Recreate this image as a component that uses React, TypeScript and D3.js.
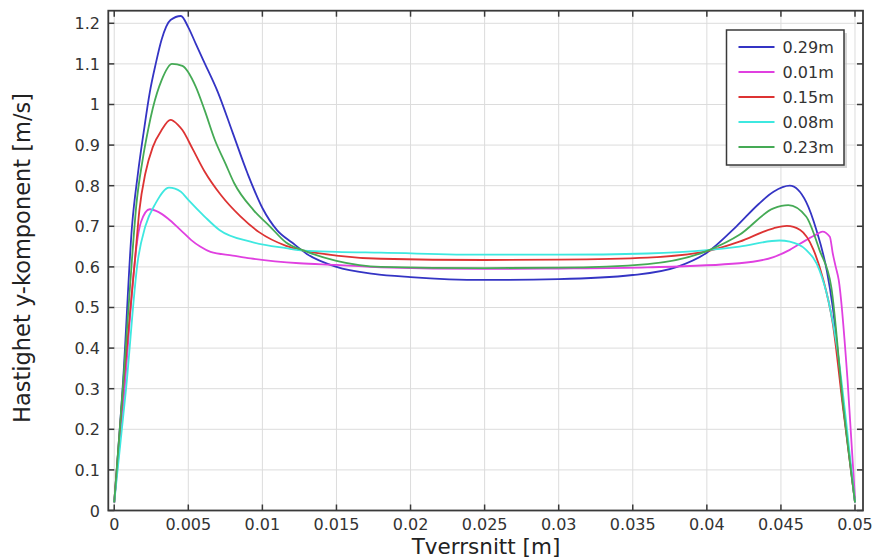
import React from "react";
import * as d3 from "d3";

// Tick values
const xTicks = [0, 0.005, 0.01, 0.015, 0.02, 0.025, 0.03, 0.035, 0.04, 0.045, 0.05];
const yTicks = [0, 0.1, 0.2, 0.3, 0.4, 0.5, 0.6, 0.7, 0.8, 0.9, 1, 1.1, 1.2];

// Series: 0.29m (blue)
const x029 = [0, 0.0006, 0.0012, 0.0016, 0.002, 0.0024, 0.0028, 0.0032, 0.0038, 0.0045, 0.005, 0.0055, 0.006, 0.007, 0.008, 0.009, 0.01, 0.011, 0.012, 0.013, 0.015, 0.0175, 0.02, 0.025, 0.03, 0.035, 0.038, 0.04, 0.042, 0.0435, 0.0445, 0.0456, 0.0467, 0.0474, 0.0481, 0.0485, 0.0492, 0.05];
const y029 = [0.02, 0.32, 0.7, 0.83, 0.935, 1.03, 1.1, 1.16, 1.208, 1.218, 1.19, 1.15, 1.11, 1.03, 0.93, 0.83, 0.745, 0.69, 0.66, 0.632, 0.6, 0.583, 0.575, 0.568, 0.57, 0.58, 0.6, 0.635, 0.7, 0.755, 0.785, 0.8, 0.76, 0.69, 0.59, 0.5, 0.26, 0.02];

// Series: 0.01m (magenta)
const x001 = [0, 0.0007, 0.0013, 0.0015, 0.0018, 0.0024, 0.003, 0.0036, 0.0045, 0.0052, 0.0058, 0.0065, 0.008, 0.0092, 0.0125, 0.015, 0.018, 0.025, 0.03, 0.036, 0.0422, 0.0445, 0.0456, 0.0467, 0.0474, 0.0478, 0.0483, 0.0485, 0.0487, 0.0489, 0.0495, 0.05];
const y001 = [0.02, 0.3, 0.58, 0.65, 0.71, 0.742, 0.735, 0.72, 0.69, 0.666, 0.65, 0.637, 0.628, 0.621, 0.609, 0.605, 0.599, 0.595, 0.596, 0.599, 0.609, 0.624, 0.642, 0.666, 0.68, 0.687, 0.674, 0.633, 0.6, 0.568, 0.32, 0.03];

// Series: 0.15m (red)
const x015 = [0, 0.0006, 0.0014, 0.0017, 0.0021, 0.0026, 0.0032, 0.0038, 0.0043, 0.0046, 0.0053, 0.0061, 0.0072, 0.0085, 0.0098, 0.0116, 0.0128, 0.015, 0.018, 0.025, 0.03, 0.036, 0.0402, 0.0422, 0.0445, 0.0454, 0.0463, 0.0472, 0.0478, 0.0485, 0.0492, 0.05];
const y015 = [0.02, 0.3, 0.617, 0.74, 0.83, 0.895, 0.937, 0.962, 0.95, 0.937, 0.89, 0.835, 0.777, 0.725, 0.685, 0.652, 0.64, 0.628, 0.62, 0.617, 0.618, 0.623, 0.64, 0.662, 0.695, 0.701, 0.691, 0.642, 0.576, 0.46, 0.25, 0.02];

// Series: 0.08m (cyan)
const x008 = [0, 0.0008, 0.0016, 0.0021, 0.0028, 0.0037, 0.0045, 0.005, 0.0061, 0.0071, 0.0092, 0.0116, 0.0128, 0.015, 0.018, 0.025, 0.03, 0.036, 0.0402, 0.0422, 0.0449, 0.0456, 0.0467, 0.0476, 0.0482, 0.0488, 0.0494, 0.05];
const y008 = [0.02, 0.3, 0.617, 0.7, 0.757, 0.795, 0.785, 0.765, 0.724, 0.691, 0.662, 0.646, 0.64, 0.637, 0.635, 0.63, 0.63, 0.633, 0.642, 0.65, 0.665, 0.662, 0.642, 0.592, 0.518, 0.4, 0.22, 0.02];

// Series: 0.23m (green)
const x023 = [0, 0.0006, 0.0012, 0.0015, 0.0019, 0.0023, 0.0026, 0.0032, 0.0039, 0.0046, 0.0055, 0.0061, 0.0068, 0.0075, 0.0081, 0.0094, 0.0105, 0.0116, 0.0128, 0.015, 0.018, 0.025, 0.03, 0.036, 0.0402, 0.0422, 0.0445, 0.0455, 0.0467, 0.0476, 0.0484, 0.0492, 0.05];
const y023 = [0.02, 0.31, 0.62, 0.755, 0.86, 0.94, 0.99, 1.06, 1.1, 1.095, 1.044, 0.986, 0.912, 0.855, 0.806, 0.74, 0.7, 0.66, 0.64, 0.615, 0.6, 0.597, 0.598, 0.607, 0.642, 0.679, 0.744, 0.752, 0.724, 0.642, 0.55, 0.26, 0.02];

const seriesNames = ["0.29m", "0.01m", "0.15m", "0.08m", "0.23m"];
const seriesX = [x029, x001, x015, x008, x023];
const seriesY = [y029, y001, y015, y008, y023];
const seriesColors = ["#3434c4", "#e040e0", "#dd3333", "#3ee8e0", "#45aa55"];

const W = 875;
const H = 558;

export default function App() {
  const x = d3.scaleLinear().domain([-0.0004, 0.05054]).range([108.3, 863]);
  const y = d3.scaleLinear().domain([0, 1.231]).range([510.5, 10.7]);
  const [x0, x1] = x.range();
  const [yb, yt] = y.range();

  const line = d3
    .line<[number, number]>()
    .x((d) => x(d[0]))
    .y((d) => y(d[1]))
    .curve(d3.curveMonotoneX);

  const fmt = (v: number) => String(+v.toFixed(3));
  const font = "DejaVu Sans, sans-serif";
  const axisColor = "#3a3a3a";
  const textColor = "#333";

  const legX = 726.5;
  const legY = 30;
  const legW = 117.5;
  const legH = 135;

  return (
    <svg
      width={W}
      height={H}
      style={{ position: "absolute", left: 0, top: 0, background: "#fff" }}
      fontFamily={font}
    >
      <rect x={0} y={0} width={W} height={H} fill="#fff" />
      {/* grid */}
      <g stroke="#dcdcdc" strokeWidth={1}>
        {xTicks.map((t) => (
          <line key={"gx" + t} x1={x(t)} x2={x(t)} y1={yt} y2={yb} />
        ))}
        {yTicks.map((t) => (
          <line key={"gy" + t} x1={x0} x2={x1} y1={y(t)} y2={y(t)} />
        ))}
      </g>

      {/* series */}
      <g fill="none" strokeWidth={1.8} strokeLinejoin="round">
        {seriesX.map((xs, i) => {
          const pts: [number, number][] = xs.map((v, j) => [v, seriesY[i][j]]);
          return <path key={seriesNames[i]} d={line(pts) || ""} stroke={seriesColors[i]} />;
        })}
      </g>

      {/* frame */}
      <rect x={x0} y={yt} width={x1 - x0} height={yb - yt} fill="none" stroke={axisColor} strokeWidth={1.8} />

      {/* ticks */}
      <g stroke={axisColor} strokeWidth={1.5}>
        {xTicks.map((t) => (
          <g key={"tx" + t}>
            <line x1={x(t)} x2={x(t)} y1={yb} y2={yb - 6} />
            <line x1={x(t)} x2={x(t)} y1={yt} y2={yt + 6} />
          </g>
        ))}
        {yTicks.map((t) => (
          <g key={"ty" + t}>
            <line x1={x0} x2={x0 + 6} y1={y(t)} y2={y(t)} />
            <line x1={x1} x2={x1 - 6} y1={y(t)} y2={y(t)} />
          </g>
        ))}
      </g>

      {/* tick labels */}
      <g fill={textColor} fontSize={16}>
        {xTicks.map((t) => (
          <text key={"lx" + t} x={x(t)} y={530} textAnchor="middle">
            {fmt(t)}
          </text>
        ))}
        {yTicks.map((t) => (
          <text key={"ly" + t} x={100} y={y(t) + 6} textAnchor="end">
            {fmt(t)}
          </text>
        ))}
      </g>

      {/* axis titles */}
      <text x={486} y={554} textAnchor="middle" fontSize={21.5} fill="#222">
        Tverrsnitt [m]
      </text>
      <text
        transform={`translate(30, 258) rotate(-90)`}
        textAnchor="middle"
        fontSize={22.5}
        fill="#222"
      >
        Hastighet y-komponent [m/s]
      </text>

      {/* legend */}
      <rect x={legX + 3} y={legY + 3} width={legW} height={legH} fill="#bbb" opacity={0.6} />
      <rect x={legX} y={legY} width={legW} height={legH} fill="#fff" stroke={axisColor} strokeWidth={1.5} />
      {seriesNames.map((n, i) => {
        const cy = legY + 17 + i * 25;
        return (
          <g key={"leg" + n}>
            <line x1={legX + 12} x2={legX + 48} y1={cy} y2={cy} stroke={seriesColors[i]} strokeWidth={2} />
            <text x={legX + 56} y={cy + 6} fontSize={16} fill={textColor}>
              {n}
            </text>
          </g>
        );
      })}
    </svg>
  );
}
